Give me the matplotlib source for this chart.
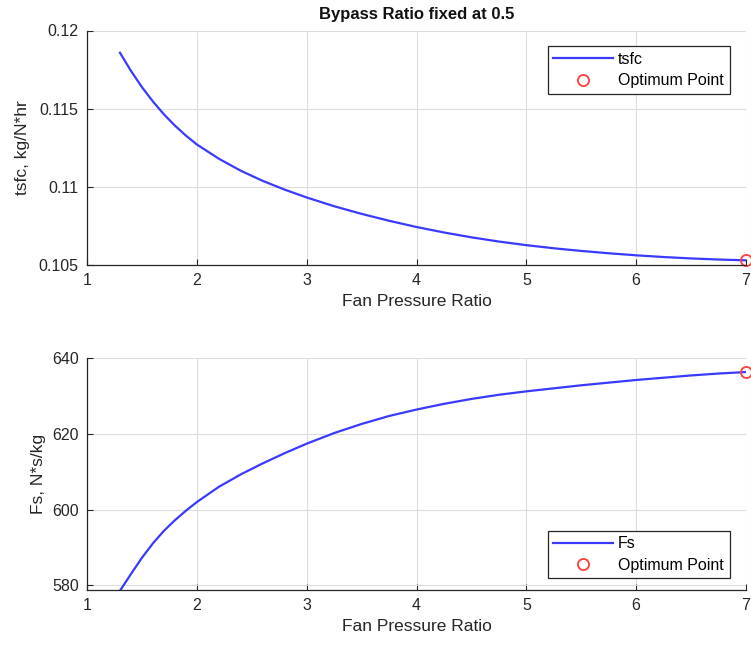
import matplotlib
matplotlib.use("Agg")
import matplotlib.pyplot as plt

plt.rcParams['font.family'] = ['Liberation Sans', 'DejaVu Sans']

# ---- data ----
fpr = [1.3, 1.4, 1.5, 1.6, 1.7, 1.8, 1.9, 2.0, 2.2, 2.4, 2.6, 2.8, 3.0,
       3.25, 3.5, 3.75, 4.0, 4.25, 4.5, 4.75, 5.0, 5.25, 5.5, 5.75, 6.0,
       6.25, 6.5, 6.75, 7.0]
tsfc = [0.11858, 0.11742, 0.11638, 0.11546, 0.11464, 0.11392, 0.11328, 0.11271,
        0.11180, 0.11103, 0.11038, 0.10982, 0.10932,
        0.10876, 0.10827, 0.10783, 0.10743, 0.10708, 0.10677, 0.10650, 0.10627,
        0.10607, 0.10590, 0.10575, 0.10562, 0.10551, 0.10542, 0.10535, 0.10530]
fs = [578.6, 583.0, 587.3, 591.1, 594.4, 597.2, 599.7, 602.0,
      606.0, 609.3, 612.2, 614.9, 617.4,
      620.2, 622.6, 624.7, 626.4, 627.9, 629.2, 630.3, 631.2,
      632.0, 632.8, 633.5, 634.2, 634.8, 635.4, 635.9, 636.3]
opt_fpr = [7.0]
opt_tsfc = [0.10530]
opt_fs = [636.3]

xticks = [1, 2, 3, 4, 5, 6, 7]
tsfc_ticks = [0.105, 0.11, 0.115, 0.12]
tsfc_ticklabels = ['0.105', '0.11', '0.115', '0.12']
fs_ticks = [580, 600, 620, 640]
fs_ticklabels = ['580', '600', '620', '640']

title = 'Bypass Ratio fixed at 0.5'
xlabel = 'Fan Pressure Ratio'

W, H = 751, 657
fig = plt.figure(figsize=(W / 100, H / 100), dpi=100)

def frac(l, t, r, b):
    return [l / W, 1 - b / H, (r - l) / W, (b - t) / H]

ax1 = fig.add_axes(frac(87, 30.5, 746, 265))
ax2 = fig.add_axes(frac(87, 358, 746, 590))

txt = '#262626'
line_c = '#3a3aff'
mark_c = '#ff3b3b'

def style(ax):
    ax.grid(True, color='#dcdcdc', linewidth=0.8)
    ax.set_axisbelow(True)
    for s in ['top', 'right']:
        ax.spines[s].set_visible(False)
    for s in ['left', 'bottom']:
        ax.spines[s].set_color('#262626')
        ax.spines[s].set_linewidth(0.9)
    ax.tick_params(direction='in', length=4, width=0.8, colors=txt,
                   labelsize=11.5, pad=6)
    ax.set_xlim(1, 7)
    ax.set_xticks(xticks)
    ax.set_xlabel(xlabel, fontsize=12.5, color=txt, labelpad=4)

def legend(ax, loc, anchor):
    leg = ax.legend(loc=loc, bbox_to_anchor=anchor, fontsize=11.5,
                    frameon=True, fancybox=False, edgecolor='#262626', framealpha=1,
                    handlelength=3.7, borderpad=0.35, labelspacing=0.4,
                    handletextpad=0.35, borderaxespad=0)
    leg.get_frame().set_linewidth(0.9)
    return leg

ax1.plot(fpr, tsfc, color=line_c, lw=1.6, label='tsfc')
ax1.plot(opt_fpr, opt_tsfc, 'o', mfc='none', mec=mark_c, ms=8, mew=1.3,
         clip_on=False, label='Optimum Point')
style(ax1)
ax1.set_ylim(0.105, 0.12)
ax1.set_yticks(tsfc_ticks)
ax1.set_yticklabels(tsfc_ticklabels)
ax1.set_ylabel('tsfc, kg/N*hr', fontsize=12.5, color=txt, labelpad=6)
ax1.set_title(title, fontsize=12, fontweight='bold', color='#111111', pad=8)
legend(ax1, 'upper right', (0.975, 0.933))

ax2.plot(fpr, fs, color=line_c, lw=1.6, label='Fs')
ax2.plot(opt_fpr, opt_fs, 'o', mfc='none', mec=mark_c, ms=8, mew=1.3,
         clip_on=False, label='Optimum Point')
style(ax2)
ax2.set_ylim(578.8, 640)
ax2.set_yticks(fs_ticks)
ax2.set_yticklabels(fs_ticklabels)
ax2.set_ylabel('Fs, N*s/kg', fontsize=12.5, color=txt, labelpad=4)
legend(ax2, 'lower right', (0.975, 0.05))

fig.savefig('out.png', dpi=100)
